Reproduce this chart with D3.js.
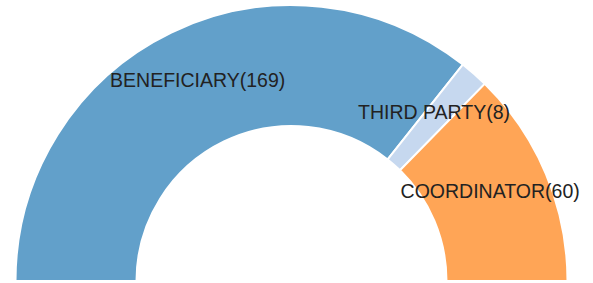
<!DOCTYPE html>
<html>
<head>
<meta charset="utf-8">
<script src="https://cdnjs.cloudflare.com/ajax/libs/d3/7.8.5/d3.min.js"></script>
<style>
  body { margin: 0; background: #fff; }
  svg { display: block; }
</style>
</head>
<body>
<div id="chart"></div>
<script>
const categories = ['BENEFICIARY', 'THIRD PARTY', 'COORDINATOR'];
const counts = [169, 8, 60];
const colors = ['#1f77b4', '#aec7e8', '#ff7f0e'];

function createHalfDonut(container) {
    const width = 593, height = 283;
    const cx = 291.5, cy = 281;
    const outerR = 276, innerR = 155;

    const data = categories.map((c, i) => ({name: c, value: counts[i], color: colors[i]}));

    const svg = d3.select(container)
        .append('svg')
        .attr('width', width)
        .attr('height', height)
        .append('g')
        .attr('transform', `translate(${cx},${cy})`);

    const pie = d3.pie()
        .sort(null)
        .value(d => d.value)
        .startAngle(-Math.PI / 2)
        .endAngle(Math.PI / 2);

    const arc = d3.arc()
        .innerRadius(innerR)
        .outerRadius(outerR);

    const arcs = pie(data);

    svg.selectAll('.slice')
        .data(arcs)
        .enter().append('path')
        .attr('class', 'slice')
        .attr('d', arc)
        .attr('fill', d => d.data.color)
        .attr('fill-opacity', 0.7)
        .attr('stroke', '#fff')
        .attr('stroke-width', 2);

    svg.selectAll('.label')
        .data(arcs)
        .enter().append('text')
        .attr('class', 'label')
        .attr('transform', d => `translate(${arc.centroid(d)})`)
        .attr('text-anchor', 'middle')
        .attr('font-family', '"Liberation Sans", Arial, sans-serif')
        .attr('font-size', '19.5px')
        .attr('fill', '#222')
        .text(d => `${d.data.name}(${d.data.value})`);
}

createHalfDonut('#chart');
</script>
</body>
</html>
